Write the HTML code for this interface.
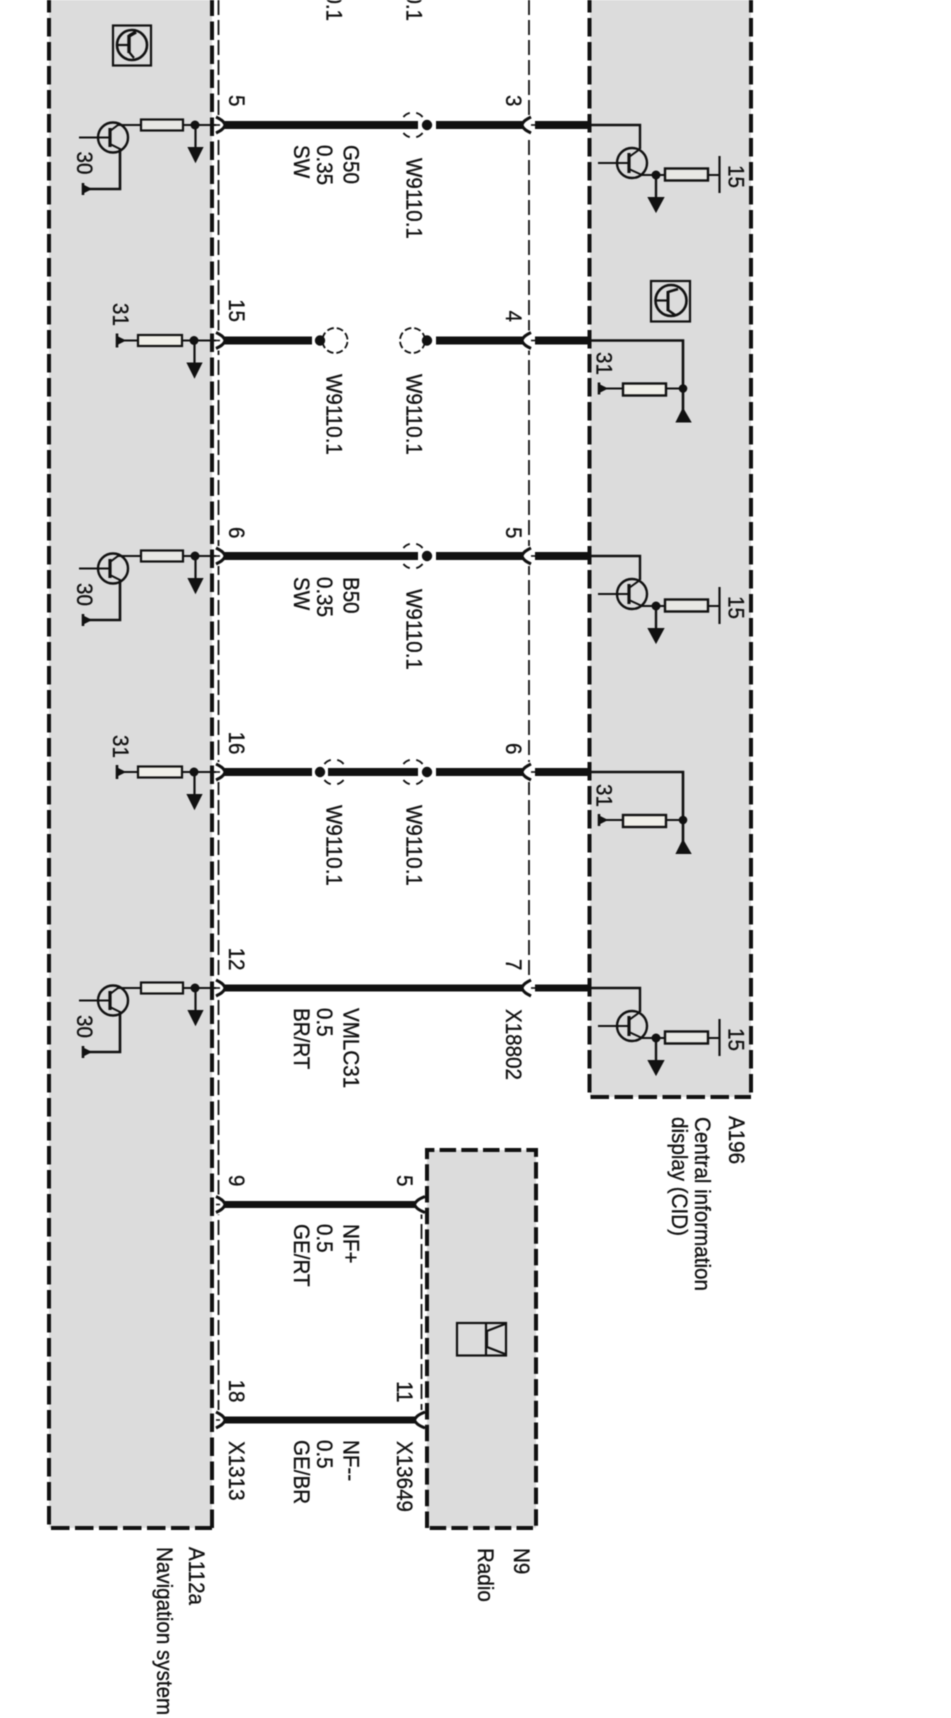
<!DOCTYPE html>
<html><head><meta charset="utf-8"><style>
html,body{margin:0;padding:0;background:#fff;width:951px;height:1718px;overflow:hidden}
svg{display:block;filter:blur(.5px)}
text{font-family:"Liberation Sans",sans-serif;font-size:20px;fill:#111;stroke:#111;stroke-width:.3}
</style></head><body>
<svg width="951" height="1718" viewBox="0 0 951 1718" xmlns="http://www.w3.org/2000/svg">
<defs>
<g id="lt" fill="none" stroke="#111" stroke-width="2">
<circle cx="113" cy="12.5" r="15" stroke-width="2.4"/>
<path d="M79 12.5H110"/><path d="M110 3V22" stroke-width="3.2"/>
<path d="M110 6L118 0H140"/><path d="M110 19L120 24V64H90"/>
<path d="M120 24V64H88" stroke-width="2.6"/>
<path d="M83 58V70" stroke-width="2.6"/><path d="M83 60.5L90 64L83 67.5Z" fill="#111"/>
<rect x="141" y="-5.5" width="42" height="11" fill="#e8e8e4" stroke-width="2.2"/>
<path d="M183 0H216" stroke-width="2"/>
<circle cx="195" cy="0" r="3.5" fill="#111"/>
<path d="M195.5 0V24" stroke-width="2.2"/><path d="M189 23H202L195.5 36Z" fill="#111"/>
</g>
<g id="lr" fill="none" stroke="#111" stroke-width="2">
<path d="M117 -7V7" stroke-width="2.6"/><path d="M117 -3.5L124 0L117 3.5Z" fill="#111"/><path d="M124 0H138"/>
<rect x="138" y="-5.5" width="44" height="11" fill="#f0efe8" stroke-width="2.2"/>
<path d="M182 0H216"/>
<circle cx="194" cy="0" r="3.5" fill="#111"/>
<path d="M194.5 0V24" stroke-width="2.2"/><path d="M188 23H201L194.5 36Z" fill="#111"/>
</g>
<g id="rt" fill="none" stroke="#111" stroke-width="2">
<path d="M590 0H640V24" stroke-width="2.4"/>
<circle cx="632" cy="38" r="15" stroke-width="2.4"/>
<path d="M598 38H629"/><path d="M629 28V48" stroke-width="3.2"/>
<path d="M629 32L640 24"/><path d="M629 44L642 50H665"/>
<rect x="665" y="43.5" width="43" height="12" fill="#e8e8e4" stroke-width="2.4"/>
<path d="M708 50H719"/><path d="M719.5 31V68" stroke-width="2.2"/>
<circle cx="656" cy="50" r="3.5" fill="#111"/>
<path d="M656 50V74" stroke-width="2.4"/><path d="M649 73H663L656 86Z" fill="#111"/>
</g>
<g id="rr" fill="none" stroke="#111" stroke-width="2">
<path d="M590 0H683V72" stroke-width="2.6"/>
<path d="M599 42V54" stroke-width="2.6"/><path d="M599 44.5L606 48L599 51.5Z" fill="#111"/><path d="M606 48H623"/>
<rect x="623" y="43" width="43" height="12" fill="#f0efe8" stroke-width="2.4"/>
<path d="M666 48H683"/>
<circle cx="683" cy="48" r="3.3" fill="#111"/>
<path d="M683 69L690 81H677Z" fill="#111"/>
</g>
<g id="cL" fill="none">
<rect x="214" y="-10" width="8" height="20" fill="#fff"/>
<path d="M216 -8C220 -6 224 -4 225 0C224 4 220 6 216 8" stroke="#111" stroke-width="3"/>
<path d="M216 0H220" stroke="#111" stroke-width="1.6"/>
</g>
<g id="cR" fill="none">
<rect x="524" y="-10" width="11" height="20" fill="#fff"/>
<path d="M531 -8C527 -6 523 -4 522 0C523 4 527 6 531 8" stroke="#111" stroke-width="3"/>
<path d="M531 0H535" stroke="#111" stroke-width="1.6"/>
</g>
<g id="cM" fill="none">
<rect x="416" y="-10" width="9" height="20" fill="#fff"/>
<path d="M425 -8C420 -6 416 -4 414.5 0C416 4 420 6 425 8" stroke="#111" stroke-width="3"/>
</g>
<circle id="dc" cx="0" cy="0" r="12.5" fill="none" stroke="#111" stroke-width="1.8" stroke-dasharray="6.8 3" stroke-dashoffset="8.3"/>
<path id="db" d="M-9.6 -8A12.5 12.5 0 0 1 -3.2 -12.1M3.2 -12.1A12.5 12.5 0 0 1 9.6 -8M-9.6 8A12.5 12.5 0 0 0 -3.2 12.1M3.2 12.1A12.5 12.5 0 0 0 9.6 8" fill="none" stroke="#111" stroke-width="1.8"/>
</defs>

<rect width="951" height="1718" fill="#fff"/>
<!-- Boxes fill -->
<rect x="49" y="0" width="163" height="1528" fill="#dcdcdc"/>
<rect x="590" y="0" width="161" height="1097" fill="#dcdcdc"/>
<rect x="427" y="1150" width="109" height="378" fill="#dcdcdc"/>

<!-- Connector dashed lines -->
<g fill="none" stroke="#111" stroke-width="1.8" stroke-dasharray="15 5">
<path d="M218.5 0V1420"/>
<path d="M529 0V982"/>
<path d="M421.5 1204V1420"/>
</g>

<!-- Box borders -->
<g fill="none" stroke="#111" stroke-width="4" stroke-dasharray="18.5 5.5">
<path d="M49 0V1528H212" stroke-dashoffset="6"/>
<path d="M212 1528V0" stroke-dashoffset="0"/>
<path d="M589.5 0V1097H751" stroke-dashoffset="6"/>
<path d="M751 0V1097" stroke-dashoffset="6"/>
</g>
<g fill="none" stroke="#111" stroke-width="4" stroke-dasharray="16.5 5.2">
<path d="M427 1528V1150H536V1528H427"/>
</g>

<!-- Wires -->
<g stroke="#111" fill="none">
<g stroke-width="8">
<path d="M224 125H418M436 125H523M535 125H590"/>
<path d="M224 340.5H312M436 340.5H523M535 340.5H590"/>
<path d="M224 556H418M436 556H523M535 556H590"/>
<path d="M224 772H312M328 772H418M436 772H523M535 772H590"/>
</g>
<g stroke-width="7">
<path d="M224 988H523M535 988H590"/>
<path d="M224 1204.5H415"/>
<path d="M224 1420H415"/>
</g>
</g>

<!-- Connector marks -->
<use href="#cL" y="125"/><use href="#cR" y="125"/>
<use href="#cL" y="340.5"/><use href="#cR" y="340.5"/>
<use href="#cL" y="556"/><use href="#cR" y="556"/>
<use href="#cL" y="772"/><use href="#cR" y="772"/>
<use href="#cL" y="988"/><use href="#cR" y="988"/>
<use href="#cL" y="1204.5"/><use href="#cM" y="1204.5"/>
<use href="#cL" y="1420"/><use href="#cM" y="1420"/>

<!-- Splice dots and dashed circles -->
<g fill="#111">
<use href="#db" x="413" y="125"/><circle cx="427" cy="125" r="5.2"/>
<use href="#dc" x="335" y="340.5"/><circle cx="320" cy="340.5" r="5.2"/>
<use href="#dc" x="412.5" y="340.5"/><circle cx="427" cy="340.5" r="5.2"/>
<use href="#db" x="413" y="556"/><circle cx="427" cy="556" r="5.2"/>
<use href="#db" x="334" y="772"/><circle cx="320" cy="772" r="5.2"/>
<use href="#db" x="413" y="772"/><circle cx="427" cy="772" r="5.2"/>
</g>

<!-- Components -->
<use href="#lt" y="125"/><use href="#lt" y="556"/><use href="#lt" y="988"/>
<use href="#lr" y="340.5"/><use href="#lr" y="772"/>
<use href="#rt" y="125"/><use href="#rt" y="556"/><use href="#rt" y="988"/>
<use href="#rr" y="340.5"/><use href="#rr" y="772"/>

<!-- Icons -->
<g fill="none" stroke="#111" stroke-width="2.2">
<rect x="113" y="25.5" width="38" height="40"/>
<circle cx="132" cy="45" r="15" stroke-width="2.6"/>
<path d="M117 45H129"/><path d="M129 35V53" stroke-width="3.4"/><path d="M129 36L136 32" stroke-width="3.4"/><path d="M129 52L134 58"/>
<rect x="651" y="281" width="39" height="40.5"/>
<circle cx="671" cy="300.5" r="15.5" stroke-width="2.6"/>
<path d="M655 300.5H668"/><path d="M668 291V311" stroke-width="3"/><path d="M668 292L678 289" stroke-width="2.6"/><path d="M668 310L675 315" stroke-width="2.6"/>
<rect x="457" y="1323" width="49" height="32.5"/>
<path d="M486 1323V1355.5"/>
<path d="M505 1324L487 1331V1347L505 1354"/>
</g>

<!-- Text -->
<g>
<g text-anchor="end">
<text transform="translate(229,106.5) rotate(90) scale(1.03,1.1)">5</text>
<text transform="translate(506,106.5) rotate(90) scale(1.03,1.1)">3</text>
<text transform="translate(229,322) rotate(90) scale(1.03,1.1)">15</text>
<text transform="translate(506,322) rotate(90) scale(1.03,1.1)">4</text>
<text transform="translate(229,538.5) rotate(90) scale(1.03,1.1)">6</text>
<text transform="translate(506,538.5) rotate(90) scale(1.03,1.1)">5</text>
<text transform="translate(229,754.5) rotate(90) scale(1.03,1.1)">16</text>
<text transform="translate(506,754.5) rotate(90) scale(1.03,1.1)">6</text>
<text transform="translate(229,970.5) rotate(90) scale(1.03,1.1)">12</text>
<text transform="translate(506,970.5) rotate(90) scale(1.03,1.1)">7</text>
<text transform="translate(229,1186.5) rotate(90) scale(1.03,1.1)">9</text>
<text transform="translate(397,1186.5) rotate(90) scale(1.03,1.1)">5</text>
<text transform="translate(229,1402.5) rotate(90) scale(1.03,1.1)">18</text>
<text transform="translate(397,1402.5) rotate(90) scale(1.03,1.1)">11</text>
<text transform="translate(326.5,21) rotate(90) scale(1.03,1.1)">W9110.1</text>
<text transform="translate(406.5,21) rotate(90) scale(1.03,1.1)">W9110.1</text>
</g>
<text transform="translate(77,151.5) rotate(90) scale(1.03,1.1)">30</text>
<text transform="translate(77,583) rotate(90) scale(1.03,1.1)">30</text>
<text transform="translate(77,1015) rotate(90) scale(1.03,1.1)">30</text>
<text transform="translate(113,303) rotate(90) scale(1.03,1.1)">31</text>
<text transform="translate(113,735) rotate(90) scale(1.03,1.1)">31</text>
<text transform="translate(596.5,352) rotate(90) scale(1.03,1.1)">31</text>
<text transform="translate(596.5,784) rotate(90) scale(1.03,1.1)">31</text>
<text transform="translate(728.5,165) rotate(90) scale(1.03,1.1)">15</text>
<text transform="translate(728.5,596) rotate(90) scale(1.03,1.1)">15</text>
<text transform="translate(728.5,1028) rotate(90) scale(1.03,1.1)">15</text>

<text transform="translate(406.5,158) rotate(90) scale(1.03,1.1)">W9110.1</text>
<text transform="translate(406.5,374) rotate(90) scale(1.03,1.1)">W9110.1</text>
<text transform="translate(326.5,374) rotate(90) scale(1.03,1.1)">W9110.1</text>
<text transform="translate(406.5,589) rotate(90) scale(1.03,1.1)">W9110.1</text>
<text transform="translate(406.5,805) rotate(90) scale(1.03,1.1)">W9110.1</text>
<text transform="translate(326.5,805) rotate(90) scale(1.03,1.1)">W9110.1</text>

<text transform="translate(343.5,145) rotate(90) scale(1.03,1.1)">G50</text>
<text transform="translate(317,145) rotate(90) scale(1.03,1.1)">0.35</text>
<text transform="translate(294,145) rotate(90) scale(1.03,1.1)">SW</text>
<text transform="translate(343.5,577) rotate(90) scale(1.03,1.1)">B50</text>
<text transform="translate(317,577) rotate(90) scale(1.03,1.1)">0.35</text>
<text transform="translate(294,577) rotate(90) scale(1.03,1.1)">SW</text>
<text transform="translate(343.5,1008) rotate(90) scale(1.03,1.1)">VMLC31</text>
<text transform="translate(317,1008) rotate(90) scale(1.03,1.1)">0.5</text>
<text transform="translate(294,1008) rotate(90) scale(1.03,1.1)">BR/RT</text>
<text transform="translate(343.5,1224) rotate(90) scale(1.03,1.1)">NF+</text>
<text transform="translate(317,1224) rotate(90) scale(1.03,1.1)">0.5</text>
<text transform="translate(294,1224) rotate(90) scale(1.03,1.1)">GE/RT</text>
<text transform="translate(343.5,1440) rotate(90) scale(1.03,1.1)">NF--</text>
<text transform="translate(317,1440) rotate(90) scale(1.03,1.1)">0.5</text>
<text transform="translate(294,1440) rotate(90) scale(1.03,1.1)">GE/BR</text>

<text transform="translate(506,1009) rotate(90) scale(1.03,1.1)">X18802</text>
<text transform="translate(229,1441) rotate(90) scale(1.03,1.1)">X1313</text>
<text transform="translate(397,1441) rotate(90) scale(1.03,1.1)">X13649</text>

<text transform="translate(729,1116) rotate(90) scale(1.03,1.1)">A196</text>
<text transform="translate(695,1117) rotate(90) scale(1.03,1.1)">Central information</text>
<text transform="translate(672,1117) rotate(90) scale(1.03,1.1)">display (CID)</text>
<text transform="translate(514,1548) rotate(90) scale(1.03,1.1)">N9</text>
<text transform="translate(478,1548) rotate(90) scale(1.03,1.1)">Radio</text>
<text transform="translate(189,1547) rotate(90) scale(1.03,1.1)">A112a</text>
<text transform="translate(157,1547) rotate(90) scale(1.03,1.1)">Navigation system</text>
</g>
</svg>
</body></html>
